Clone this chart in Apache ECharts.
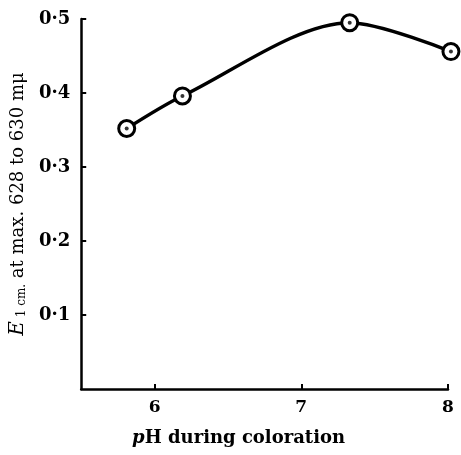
<!DOCTYPE html>
<html>
<head>
<meta charset="utf-8">
<script src="https://cdn.jsdelivr.net/npm/echarts@6/dist/echarts.min.js"></script>
<style>
    html, body { margin: 0; padding: 0; background: #fff; }
    #chart { width: 461px; height: 455px; }
</style>
</head>
<body>
<div id="chart"></div>
<script>
// 数据
const phValues = [5.81, 6.19, 7.33, 8.02];
const extinction = [0.352, 0.396, 0.495, 0.456];
const xTicks = [6, 7, 8];
const yTicks = [0.1, 0.2, 0.3, 0.4, 0.5];

const points = phValues.map((x, i) => [x, extinction[i]]);
const serif = 'DejaVu Serif';

var myChart = echarts.init(document.getElementById('chart'));

var option = {
    animation: false,
    grid: { left: 80, right: 13, top: 19, bottom: 66 },
    xAxis: {
        type: 'value',
        min: 5.5,
        max: 8,
        name: '{p|p}H during coloration',
        nameLocation: 'middle',
        nameGap: 40,
        nameTextStyle: {
            fontFamily: serif, fontSize: 18, fontWeight: 'bold', color: '#000',
            padding: [0, 52, 0, 0],
            rich: { p: { fontFamily: serif, fontSize: 18, fontStyle: 'italic', fontWeight: 'bold', color: '#000' } }
        },
        splitLine: { show: false },
        axisLine: { lineStyle: { color: '#000', width: 2.5 } },
        axisTick: { inside: true, length: 5, lineStyle: { color: '#000', width: 2 }, customValues: xTicks },
        axisLabel: {
            customValues: xTicks,
            fontFamily: serif, fontSize: 17, fontWeight: 'bold', color: '#000', margin: 10
        }
    },
    yAxis: {
        type: 'value',
        min: 0,
        max: 0.5,
        name: '{e|E}{s| 1 cm.}{t| at max. 628 to 630 mμ}',
        nameLocation: 'middle',
        nameGap: 44,
        nameTextStyle: {
            color: '#000',
            rich: {
                e: { fontFamily: serif, fontSize: 20, fontStyle: 'italic', color: '#000' },
                s: { fontFamily: serif, fontSize: 12, color: '#000', padding: [8, 0, 0, 0] },
                t: { fontFamily: serif, fontSize: 18, color: '#000' }
            }
        },
        splitLine: { show: false },
        axisLine: { show: true, lineStyle: { color: '#000', width: 2.5 } },
        axisTick: { show: true, inside: true, length: 5, lineStyle: { color: '#000', width: 2 }, customValues: yTicks },
        axisLabel: {
            customValues: yTicks,
            formatter: v => v.toFixed(1).replace('.', '·'),
            fontFamily: serif, fontSize: 18, fontWeight: 'bold', color: '#000', margin: 11
        }
    },
    series: [
        {
            type: 'line',
            data: points,
            smooth: 0.3,
            clip: false,
            lineStyle: { color: '#000', width: 3.5 },
            symbol: 'circle',
            symbolSize: 16,
            itemStyle: { color: '#fff', borderColor: '#000', borderWidth: 3 },
            z: 2
        },
        {
            type: 'scatter',
            data: points,
            clip: false,
            symbol: 'circle',
            symbolSize: 4,
            itemStyle: { color: '#000' },
            z: 3
        }
    ]
};

myChart.setOption(option);
</script>
</body>
</html>
